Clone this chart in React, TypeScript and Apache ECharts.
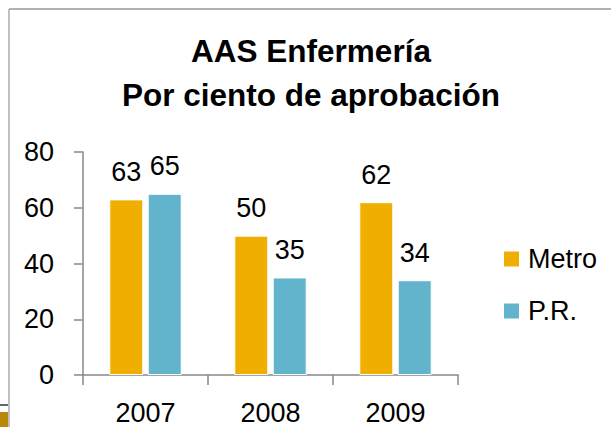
import React, { useEffect, useRef } from "react";
import * as echarts from "echarts";

const categories = ["2007", "2008", "2009"];
const metro = [63, 50, 62];
const pr = [65, 35, 34];
const seriesNames = ["Metro", "P.R."];
const titleLines = ["AAS Enfermería", "Por ciento de aprobación"];

const FONT = "'Liberation Sans', Arial, sans-serif";
const FS = 27;

export default function App() {
  const ref = useRef<HTMLDivElement>(null);
  useEffect(() => {
    if (!ref.current) return;
    const chart = echarts.init(ref.current, undefined, { renderer: "svg" });
    const label = {
      show: true,
      position: "top" as const,
      distance: 14,
      color: "#000",
      fontSize: FS,
      fontFamily: FONT,
    };
    chart.setOption({
      animation: false,
      backgroundColor: "#fff",
      title: {
        text: titleLines.join("\n"),
        left: 311,
        top: 29,
        padding: 0,
        textAlign: "center",
        textStyle: {
          fontFamily: FONT,
          fontWeight: "bold",
          fontSize: 31.5,
          lineHeight: 44,
          color: "#000",
        },
      },
      legend: {
        data: seriesNames,
        orient: "vertical",
        left: 502,
        top: 244,
        padding: 0,
        icon: "rect",
        itemWidth: 17,
        itemHeight: 17,
        itemGap: 22,
        textStyle: { fontFamily: FONT, fontSize: FS, color: "#000", lineHeight: 30, padding: [0, 0, 0, 3] },
      },
      grid: { left: 83, right: 153, top: 152, bottom: 52, containLabel: false },
      xAxis: {
        type: "category",
        data: categories,
        axisLine: { lineStyle: { color: "#888", width: 1.5 } },
        axisTick: { show: true, length: 10, lineStyle: { color: "#888", width: 1.5 } },
        axisLabel: { color: "#000", fontSize: FS, fontFamily: FONT, margin: 24 },
      },
      yAxis: {
        type: "value",
        min: 0,
        max: 80,
        interval: 20,
        splitLine: { show: false },
        axisLine: { show: true, lineStyle: { color: "#888", width: 1.5 } },
        axisTick: { show: true, length: 9, lineStyle: { color: "#888", width: 1.5 } },
        axisLabel: { color: "#000", fontSize: FS, fontFamily: FONT, margin: 29 },
      },
      series: [
        {
          name: seriesNames[0],
          type: "bar",
          data: metro,
          barWidth: 34,
          barGap: "13%",
          itemStyle: { color: "#F0AE00", borderColor: "#fff", borderWidth: 1 },
          label,
        },
        {
          name: seriesNames[1],
          type: "bar",
          data: pr,
          barWidth: 34,
          itemStyle: { color: "#62B4CC", borderColor: "#fff", borderWidth: 1 },
          label,
        },
      ],
      graphic: [
        { type: "line", shape: { x1: 9, y1: 9, x2: 611, y2: 9 }, style: { stroke: "#999", lineWidth: 1.5 } },
        { type: "line", shape: { x1: 9, y1: 9, x2: 9, y2: 427 }, style: { stroke: "#aaa", lineWidth: 1.5 } },
        { type: "line", shape: { x1: 0, y1: 405, x2: 8, y2: 405 }, style: { stroke: "#333", lineWidth: 1.5 } },
        { type: "rect", shape: { x: 0, y: 412, width: 8, height: 15 }, style: { fill: "#B8880A" } },
      ],
    });
    return () => chart.dispose();
  }, []);
  return (
    <div
      ref={ref}
      style={{ position: "fixed", left: 0, top: 0, width: 611, height: 427 }}
    />
  );
}
